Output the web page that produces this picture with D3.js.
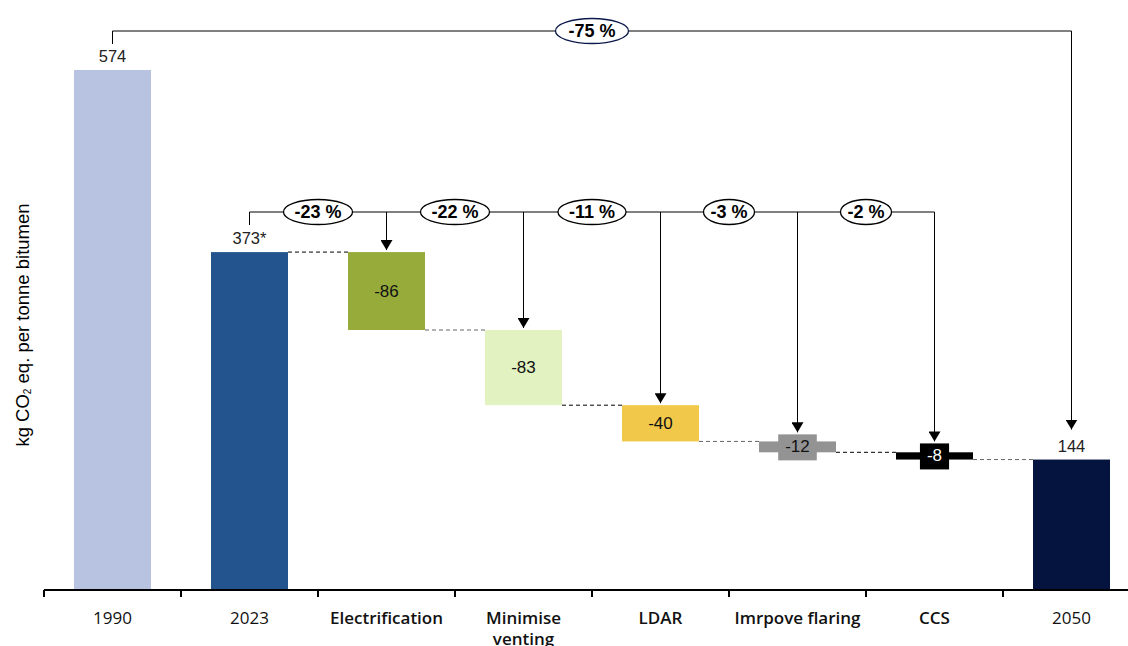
<!DOCTYPE html>
<html>
<head>
<meta charset="utf-8">
<script src="https://cdn.jsdelivr.net/npm/d3@7/dist/d3.min.js"></script>
<style>
  html, body { margin: 0; padding: 0; background: #fff; }
  svg { display: block; }
</style>
</head>
<body>
<svg id="chart" width="1128" height="646"></svg>
<script>
// Emission pathway: totals and reduction steps (kg CO2 eq. per tonne bitumen)
const categories = ["1990", "2023", "Electrification", "Minimise venting", "LDAR", "Imrpove flaring", "CCS", "2050"];
const values = [574, 373, -86, -83, -40, -12, -8, 144];
const kinds = ["total", "total", "step", "step", "step", "step", "step", "total"];
const valueLabels = ["574", "373*", "-86", "-83", "-40", "-12", "-8", "144"];
const colors = ["#b7c3e0", "#24548d", "#97ab3b", "#e2f2c0", "#f2c84b", "#939393", "#000000", "#05133f"];
const labelColors = ["#222", "#222", "#111", "#111", "#111", "#111", "#fff", "#222"];
const stepShares = ["-23 %", "-22 %", "-11 %", "-3 %", "-2 %"];
const overallShare = "-75 %";

const svg = d3.select("#chart");
const numFont = "'Liberation Sans', Arial, sans-serif";
const catFont = "'Open Sans', 'Noto Sans', sans-serif";

const x = d3.scaleBand().domain(categories).range([44, 1140]).paddingInner(0.438).paddingOuter(0.219);
const y = d3.scaleLinear().domain([0, 574]).range([590, 70]);

// Running levels for the waterfall
let level = 0;
const bars = categories.map((c, i) => {
  let start, end;
  if (kinds[i] === "total") { start = 0; end = values[i]; level = values[i]; }
  else { start = level; end = level + values[i]; level = end; }
  return { c, i, v: values[i], start, end, top: Math.max(start, end), bottom: Math.min(start, end) };
});

const cx = c => x(c) + x.bandwidth() / 2;

// Dashed connectors between consecutive bars
for (let i = 1; i < bars.length - 1; i++) {
  const b = bars[i];
  const lv = b.end;
  svg.append("line")
    .attr("x1", x(b.c) + x.bandwidth()).attr("x2", x(bars[i + 1].c))
    .attr("y1", y(lv)).attr("y2", y(lv))
    .attr("stroke", i % 2 === 0 ? "#666" : "#000").attr("stroke-width", 1)
    .attr("stroke-dasharray", "4,3");
}

// Bars
svg.selectAll("rect.bar").data(bars).enter().append("rect")
  .attr("class", "bar")
  .attr("x", d => x(d.c)).attr("width", x.bandwidth())
  .attr("y", d => y(d.top)).attr("height", d => y(d.bottom) - y(d.top))
  .attr("fill", d => colors[d.i]);

// Value labels
bars.forEach(b => {
  if (kinds[b.i] === "total") {
    svg.append("text")
      .attr("x", cx(b.c)).attr("y", y(b.top) - 8)
      .attr("text-anchor", "middle")
      .attr("font-family", numFont).attr("font-size", 16.5).attr("fill", labelColors[b.i])
      .text(valueLabels[b.i]);
  } else {
    const midY = (y(b.top) + y(b.bottom)) / 2;
    const h = y(b.bottom) - y(b.top);
    const t = svg.append("text")
      .attr("x", cx(b.c)).attr("y", midY + 1)
      .attr("text-anchor", "middle").attr("dominant-baseline", "middle")
      .attr("font-family", numFont).attr("font-size", 17).attr("fill", labelColors[b.i])
      .text(valueLabels[b.i]);
    if (h < 24) {
      const bb = t.node().getBBox();
      svg.insert("rect", function () { return t.node(); })
        .attr("x", bb.x - 7).attr("width", bb.width + 14)
        .attr("y", midY - 12.5).attr("height", 26)
        .attr("fill", colors[b.i]);
    }
  }
});

// Category axis
const axis = d3.axisBottom(x).tickSize(0).tickFormat("");
const gx = svg.append("g").attr("transform", "translate(0,590)").call(axis);
gx.select(".domain").remove();
svg.append("line").attr("x1", 44).attr("x2", 1140).attr("y1", 590).attr("y2", 590)
  .attr("stroke", "#000").attr("stroke-width", 2);
const gap = (x.step() - x.bandwidth()) / 2;
const tickXs = categories.map(c => x(c) - gap)
  .concat([x(categories[categories.length - 1]) + x.bandwidth() + gap]);
tickXs.forEach(tx => {
  svg.append("line").attr("x1", tx).attr("x2", tx).attr("y1", 590).attr("y2", 597)
    .attr("stroke", "#000").attr("stroke-width", 2);
});
categories.forEach((c, i) => {
  const bold = kinds[i] === "step";
  const words = c === "Minimise venting" ? ["Minimise", "venting"] : [c];
  const t = svg.append("text")
    .attr("x", cx(c)).attr("y", 624)
    .attr("text-anchor", "middle")
    .attr("font-family", catFont).attr("font-size", 17)
    .attr("font-weight", bold ? 600 : 400).attr("fill", "#111");
  words.forEach((w, k) => t.append("tspan").attr("x", cx(c)).attr("dy", k === 0 ? 0 : 21).text(w));
});

// Y axis title
const yt = svg.append("text")
  .attr("transform", "translate(29,325) rotate(-90)")
  .attr("text-anchor", "middle")
  .attr("font-family", numFont).attr("font-size", 18.5).attr("fill", "#000");
yt.append("tspan").text("kg CO");
yt.append("tspan").attr("font-size", 10).attr("dy", 2).text("2");
yt.append("tspan").attr("dy", -2).text(" eq. per tonne bitumen");

// Arrowhead marker
svg.append("defs").append("marker")
  .attr("id", "arrow").attr("viewBox", "0 0 10 12")
  .attr("refX", 10).attr("refY", 6)
  .attr("markerWidth", 10).attr("markerHeight", 12).attr("markerUnits", "userSpaceOnUse")
  .attr("orient", "auto")
  .append("path").attr("d", "M0,0 L10,6 L0,12 Z").attr("fill", "#000");

function ellipseLabel(xc, yc, text, stroke, pad) {
  const t = svg.append("text")
    .attr("x", xc).attr("y", yc + 1)
    .attr("text-anchor", "middle").attr("dominant-baseline", "middle")
    .attr("font-family", numFont).attr("font-size", 18).attr("font-weight", 700)
    .attr("fill", "#000").text(text);
  const bb = t.node().getBBox();
  svg.insert("ellipse", function () { return t.node(); })
    .attr("cx", xc).attr("cy", yc)
    .attr("rx", bb.width / 2 + pad).attr("ry", 12.5)
    .attr("fill", "#fff").attr("stroke", stroke).attr("stroke-width", 1.3);
}

// Overall bracket 1990 -> 2050
const topY = 31;
const x1990 = cx(categories[0]);
const x2050 = cx(categories[categories.length - 1]);
svg.append("path")
  .attr("d", `M${x1990},${topY + 13} V${topY} H${x2050}`)
  .attr("fill", "none").attr("stroke", "#000").attr("stroke-width", 1);
svg.append("line")
  .attr("x1", x2050).attr("x2", x2050).attr("y1", topY).attr("y2", y(bars[7].top) - 30)
  .attr("stroke", "#000").attr("stroke-width", 1).attr("marker-end", "url(#arrow)");
ellipseLabel((x1990 + x2050) / 2, topY, overallShare, "#0b1a4a", 13);

// Step bracket from 2023 across the reductions
const midY = 212;
const x2023 = cx(categories[1]);
const stepBars = bars.filter(b => kinds[b.i] === "step");
const lastStepX = cx(stepBars[stepBars.length - 1].c);
svg.append("path")
  .attr("d", `M${x2023},${midY + 13} V${midY} H${lastStepX}`)
  .attr("fill", "none").attr("stroke", "#000").attr("stroke-width", 1);
stepBars.forEach(b => {
  const h = y(b.bottom) - y(b.top);
  const targetTop = h < 24 ? (y(b.top) + y(b.bottom)) / 2 - 12.5 : y(b.top);
  svg.append("line")
    .attr("x1", cx(b.c)).attr("x2", cx(b.c))
    .attr("y1", midY).attr("y2", targetTop - 2)
    .attr("stroke", "#000").attr("stroke-width", 1).attr("marker-end", "url(#arrow)");
});
let prevX = x2023;
stepBars.forEach((b, k) => {
  const xc = (prevX + cx(b.c)) / 2;
  ellipseLabel(xc, midY, stepShares[k], "#000", stepShares[k].length > 4 ? 11 : 7);
  prevX = cx(b.c);
});
</script>
</body>
</html>
